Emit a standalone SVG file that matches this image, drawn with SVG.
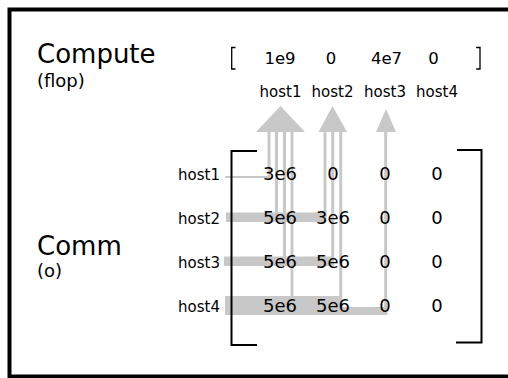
<svg xmlns="http://www.w3.org/2000/svg" width="508" height="378" viewBox="0 0 508 378">
<style>
text{font-family:"DejaVu Sans","Liberation Sans",sans-serif;fill:#000}
.big{font-size:26px}
.unit{font-size:18px}
.val{font-size:16.5px;text-anchor:middle}
.cell{font-size:18px;text-anchor:middle}
.hl{font-size:15px;text-anchor:middle}
.rl{font-size:15px;text-anchor:end}
.br{fill:none;stroke:#000;stroke-width:2}
.sbr{fill:none;stroke:#000;stroke-width:1.3}
.flow{stroke:#c8c8c8;stroke-width:3;fill:none}
.bar{fill:#c8c8c8}
.head{fill:#c8c8c8}
</style>
<rect x="9.5" y="9.5" width="510" height="367" fill="#fff" stroke="#000" stroke-width="4"/>

<g id="connectors">
  <rect class="bar" x="225" y="176" width="45" height="2"/>
  <rect class="bar" x="226" y="212.5" width="100.5" height="9.5"/>
  <rect class="bar" x="224" y="256.5" width="110" height="9.5"/>
  <rect class="bar" x="225" y="296" width="117" height="19"/>
  <rect class="bar" x="342" y="307" width="45.5" height="8"/>
  <line class="flow" x1="269" y1="125" x2="269" y2="177"/>
  <line class="flow" x1="276.5" y1="125" x2="276.5" y2="217"/>
  <line class="flow" x1="284.5" y1="125" x2="284.5" y2="261"/>
  <line class="flow" x1="292" y1="125" x2="292" y2="305"/>
  <line class="flow" x1="325" y1="125" x2="325" y2="217"/>
  <line class="flow" x1="332.7" y1="125" x2="332.7" y2="261"/>
  <line class="flow" x1="340.7" y1="125" x2="340.7" y2="305"/>
  <line class="flow" x1="385.7" y1="125" x2="385.7" y2="314"/>
  <polygon class="head" points="256,132 280.5,106 305,132"/>
  <polygon class="head" points="318.5,132 332.5,106 347,132"/>
  <polygon class="head" points="376,132 386,109 396,132"/>
</g>

<g id="compute-title">
  <text class="big" x="37" y="63">Compute</text>
  <text class="unit" x="37" y="87">(flop)</text>
</g>

<g id="comm-title">
  <text class="big" x="37" y="255">Comm</text>
  <text class="unit" x="37" y="277">(o)</text>
</g>

<g id="compute-vector">
  <path class="sbr" d="M235.5,47.5 H231.7 V69 H235.5"/>
  <path class="sbr" d="M476.2,47.5 H480 V69 H476.2"/>
  <text class="val" x="280" y="64">1e9</text>
  <text class="val" x="331" y="64">0</text>
  <text class="val" x="386.5" y="64">4e7</text>
  <text class="val" x="433.5" y="64">0</text>
</g>

<g id="host-labels">
  <text class="hl" x="280.5" y="97">host1</text>
  <text class="hl" x="332.5" y="97">host2</text>
  <text class="hl" x="385" y="97">host3</text>
  <text class="hl" x="437" y="97">host4</text>
  <text class="rl" x="220" y="180">host1</text>
  <text class="rl" x="220" y="224">host2</text>
  <text class="rl" x="220" y="268">host3</text>
  <text class="rl" x="220" y="312">host4</text>
</g>

<g id="comm-matrix">
  <path class="br" d="M257,151 H231.5 V345 H257"/>
  <path class="br" d="M457,150 H481.5 V342.5 H456"/>
  <text class="cell" x="280" y="180">3e6</text>
  <text class="cell" x="333" y="180">0</text>
  <text class="cell" x="385" y="180">0</text>
  <text class="cell" x="437" y="180">0</text>
  <text class="cell" x="280" y="224">5e6</text>
  <text class="cell" x="333" y="224">3e6</text>
  <text class="cell" x="385" y="224">0</text>
  <text class="cell" x="437" y="224">0</text>
  <text class="cell" x="280" y="268">5e6</text>
  <text class="cell" x="333" y="268">5e6</text>
  <text class="cell" x="385" y="268">0</text>
  <text class="cell" x="437" y="268">0</text>
  <text class="cell" x="280" y="312">5e6</text>
  <text class="cell" x="333" y="312">5e6</text>
  <text class="cell" x="385" y="312">0</text>
  <text class="cell" x="437" y="312">0</text>
</g>
</svg>
